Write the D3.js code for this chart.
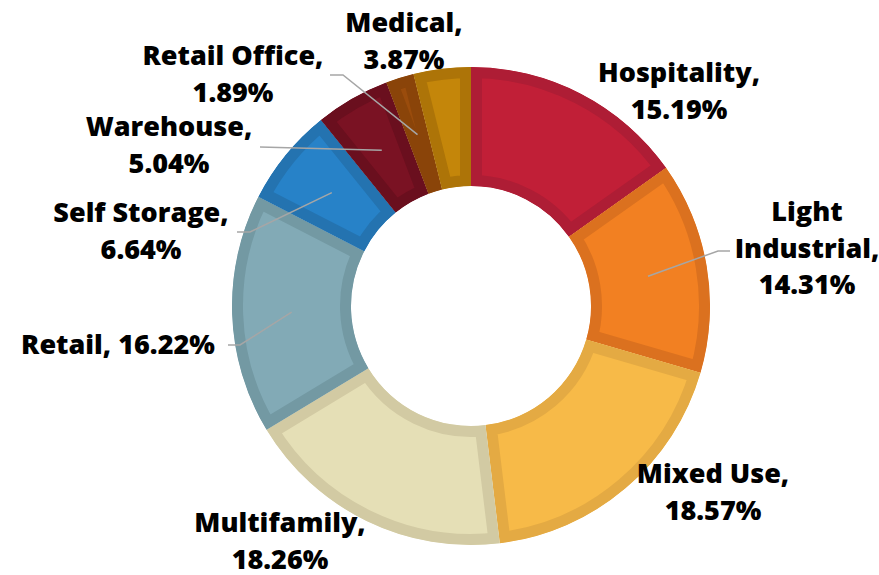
<!DOCTYPE html>
<html>
<head>
<meta charset="utf-8">
<script src="https://cdn.jsdelivr.net/npm/d3@7"></script>
<style>
  html, body { margin: 0; padding: 0; background: #fff; }
  svg { display: block; }
  text { font-family: "Open Sans", Lato, sans-serif; font-weight: 800; fill: #000; }
</style>
</head>
<body>
<svg id="chart" width="879" height="575"></svg>
<script>
// ---- data ----
const categories = ["Hospitality", "Light Industrial", "Mixed Use", "Multifamily", "Retail",
                    "Self Storage", "Warehouse", "Retail Office", "Medical"];
const values = [15.19, 14.31, 18.57, 18.26, 16.22, 6.64, 5.04, 1.89, 3.87];
const fillColors = ["#C11F37", "#F28022", "#F7BA48", "#E5DFB6", "#82AAB6",
                    "#2782C8", "#7A1223", "#9A4C0C", "#C4860A"];
const borderColors = ["#AE1D35", "#DB711F", "#E4AA43", "#D2CAA3", "#7399A3",
                      "#2473B0", "#6A0F1E", "#8A4409", "#AD7408"];

// ---- layout (positions kept separate from data) ----
const W = 879, H = 575;
const cx = 471, cy = 306, outerR = 239, innerR = 120, borderW = 11;
const fontSize = 27, lineH = 36.5;
const labelLayout = {
  "Hospitality":      { x: 679, y: 82,  lines: ["Hospitality,", "%"] },
  "Light Industrial": { x: 807, y: 221, lines: ["Light", "Industrial,", "%"], leader: [[730, 251], [718, 251]] },
  "Mixed Use":        { x: 713, y: 483, lines: ["Mixed Use,", "%"] },
  "Multifamily":      { x: 280, y: 532, lines: ["Multifamily,", "%"] },
  "Retail":           { x: 118, y: 354, lines: ["Retail, %"], leader: [[228, 345], [240, 345]] },
  "Self Storage":     { x: 141, y: 222, lines: ["Self Storage,", "%"], leader: [[237, 232], [250, 232]] },
  "Warehouse":        { x: 169, y: 136, lines: ["Warehouse,", "%"], leader: [[260, 147], [260, 147]] },
  "Retail Office":    { x: 233, y: 65,  lines: ["Retail Office,", "%"], leader: [[330, 75], [343, 75]] },
  "Medical":          { x: 404, y: 32,  lines: ["Medical,", "%"] }
};

const data = categories.map((c, i) => ({ name: c, value: values[i], fill: fillColors[i], stroke: borderColors[i] }));

const svg = d3.select("#chart");
const g = svg.append("g").attr("transform", `translate(${cx},${cy})`);

const pie = d3.pie().value(d => d.value).sort(null).startAngle(0).endAngle(2 * Math.PI);
const arc = d3.arc().innerRadius(innerR).outerRadius(outerR);
const arcs = pie(data);

const defs = svg.append("defs");
arcs.forEach((a, i) => {
  defs.append("clipPath").attr("id", "clip" + i)
    .append("path").attr("d", arc(a));
});

g.selectAll("path.slice").data(arcs).enter().append("path")
  .attr("class", "slice")
  .attr("d", arc)
  .attr("fill", d => d.data.fill)
  .attr("stroke", d => d.data.stroke)
  .attr("stroke-width", borderW * 2)
  .attr("stroke-linejoin", "miter")
  .attr("clip-path", (d, i) => `url(#clip${i})`);

// leader lines
const fmt = v => v.toFixed(2) + "%";
arcs.forEach(a => {
  const L = labelLayout[a.data.name];
  if (!L.leader) return;
  const c = arc.centroid(a);
  const pts = [L.leader[0], L.leader[1], [cx + c[0], cy + c[1]]];
  svg.append("path")
    .attr("d", d3.line()(pts))
    .attr("fill", "none")
    .attr("stroke", "#A6A6A6")
    .attr("stroke-width", 1.5);
});

// labels
arcs.forEach(a => {
  const L = labelLayout[a.data.name];
  const t = svg.append("text")
    .attr("text-anchor", "middle")
    .attr("font-size", fontSize);
  L.lines.forEach((ln, k) => {
    t.append("tspan")
      .attr("x", L.x)
      .attr("y", L.y + k * lineH)
      .text(ln.replace("%", fmt(a.data.value)));
  });
});
</script>
</body>
</html>
